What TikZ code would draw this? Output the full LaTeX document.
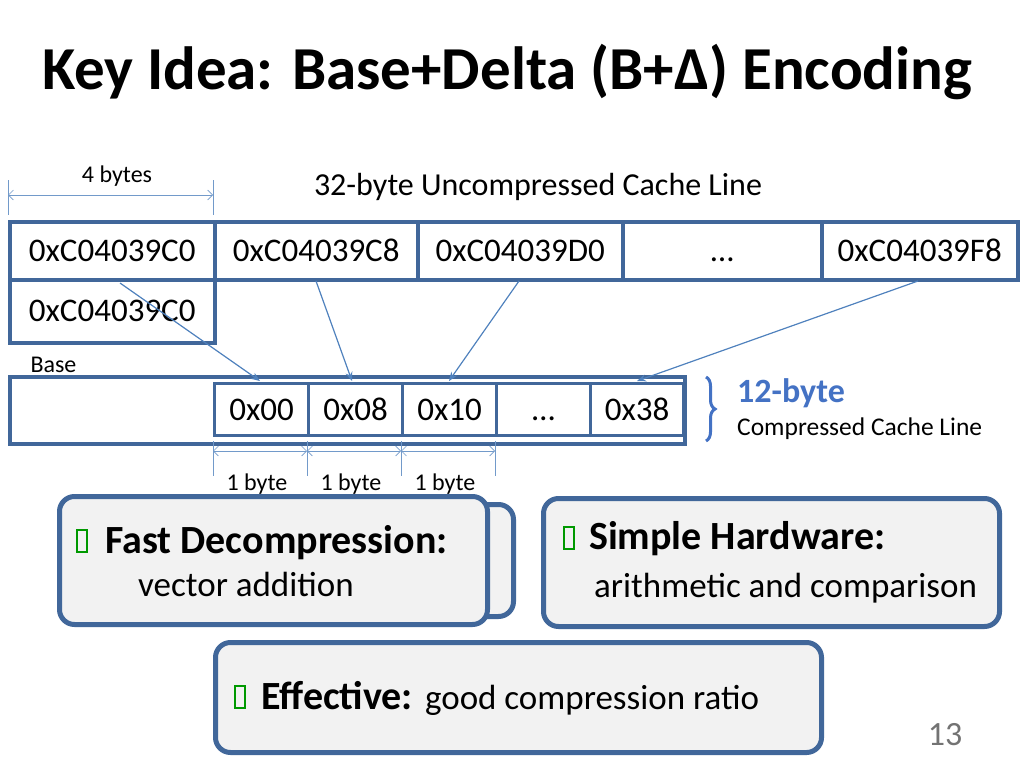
\documentclass[tikz,border=0pt]{standalone}
\usepackage{fontspec}
\setmainfont{Carlito}
\usetikzlibrary{arrows.meta,decorations.pathreplacing}
\definecolor{frame}{HTML}{41679A}
\definecolor{arr}{HTML}{4F81BD}
\definecolor{brc}{HTML}{4472C4}
\begin{document}
\begin{tikzpicture}[x=1pt,y=-1pt,
 cell/.style={draw=frame,line width=3.5pt,minimum height=58pt,anchor=north west,inner sep=0pt,font=\fontsize{33}{36}\selectfont},
 sc/.style={draw=frame,line width=3pt,minimum height=52pt,minimum width=94pt,anchor=north west,inner sep=0pt,font=\fontsize{33}{36}\selectfont},
 con/.style={draw=arr,line width=1.2pt,-{Stealth[length=9pt,width=7pt]}},
 dim/.style={draw=arr!80,line width=0.6pt,{Straight Barb[length=5pt]}-{Straight Barb[length=5pt]}},
 tick/.style={draw=arr!80,line width=0.6pt},
 box/.style={draw=frame,line width=5pt,fill=black!5,rounded corners=15pt,anchor=north west,inner sep=0pt},
 chk/.style={draw=green!60!black,line width=1.2pt,minimum width=10pt,minimum height=22pt,inner sep=0pt},
 small/.style={font=\fontsize{24}{28}\selectfont}]
\useasboundingbox (0,0) rectangle (1024,768);
\node (title) at (507,72) {\fontsize{61}{68}\selectfont\bfseries Key Idea: Base+Delta (B+Δ) Encoding};
\node[small] (fb) at (117,176) {4 bytes};
\coordinate (t1a) at (8,180); \coordinate (t1b) at (8,215);
\coordinate (t2a) at (213,180); \coordinate (t2b) at (213,215);
\draw[tick] (t1a)--(t1b); \draw[tick] (t2a)--(t2b);
\coordinate (d1) at (8,195); \coordinate (d2) at (213,195);
\draw[dim] (d1)--(d2);
\node (unc) at (538,187) {\fontsize{32}{36}\selectfont 32-byte Uncompressed Cache Line};
\node[cell,minimum width=205pt] (c1) at (8,220) {0xC04039C0};
\node[cell,minimum width=203pt] (c2) at (213,220) {0xC04039C8};
\node[cell,minimum width=205pt] (c3) at (416,220) {0xC04039D0};
\node[cell,minimum width=199pt] (c4) at (621,220) {\vphantom{0x}…};
\node[cell,minimum width=196pt] (c5) at (820,220) {0xC04039F8};
\node[cell,minimum width=205pt,minimum height=63pt] (b0) at (8,278) {0xC04039C0};
\node[small,anchor=west] (bl) at (27,365) {Base};
\node[draw=frame,line width=3.5pt,minimum width=675pt,minimum height=67pt,anchor=north west,inner sep=0pt] (row) at (8,375) {};
\node[sc] (s1) at (213,382) {0x00};
\node[sc] (s2) at (307,382) {0x08};
\node[sc] (s3) at (401,382) {0x10};
\node[sc] (s4) at (495,382) {\vphantom{0x}…};
\node[sc,minimum width=93pt] (s5) at (589,382) {0x38};
\coordinate (a1) at (120,283); \coordinate (e1) at (260,381);
\coordinate (a2) at (316,281); \coordinate (e2) at (352,381);
\coordinate (a3) at (519,281); \coordinate (e3) at (449,381);
\coordinate (a4) at (918,281); \coordinate (e4) at (637,381);
\draw[con] (a1)--(e1); \draw[con] (a2)--(e2); \draw[con] (a3)--(e3); \draw[con] (a4)--(e4);
\foreach \x/\n in {213/p1,307/p2,401/p3,495/p4}{
 \coordinate (\n a) at (\x,441); \coordinate (\n b) at (\x,476); \draw[tick] (\n a)--(\n b);}
\coordinate (q1) at (213,451); \coordinate (q2) at (307,451); \coordinate (q3) at (401,451); \coordinate (q4) at (495,451);
\draw[dim] (q1)--(q2); \draw[dim] (q2)--(q3); \draw[dim] (q3)--(q4);
\node[small] (l1) at (257,484) {1 byte};
\node[small] (l2) at (351,484) {1 byte};
\node[small] (l3) at (445,484) {1 byte};
\coordinate (br1) at (706,377); \coordinate (br2) at (706,441);
\draw[brc,line width=3pt,decorate,decoration={brace,amplitude=9pt}] (br1)--(br2);
\node[anchor=west,text=brc,inner sep=0pt] (tb) at (737,393) {\fontsize{34}{38}\selectfont\bfseries 12-byte};
\node[anchor=west,inner sep=0pt] (cc) at (737,429) {\fontsize{25.5}{30}\selectfont Compressed Cache Line};
\node[box,minimum width=448pt,minimum height=112pt] (bk) at (63,502) {};
\node[box,minimum width=428pt,minimum height=128pt] (f1) at (57,494) {};
\node[chk] (k1) at (82,541) {};
\node[anchor=west,inner sep=0pt] (t1) at (105,543) {\fontsize{40}{44}\selectfont\bfseries Fast Decompression:};
\node[anchor=west,inner sep=0pt] (t1s) at (138,584) {\fontsize{35}{40}\selectfont vector addition};
\node[box,minimum width=456pt,minimum height=128pt] (f2) at (541,496) {};
\node[chk] (k2) at (569,538) {};
\node[anchor=west,inner sep=0pt] (t2) at (589,539) {\fontsize{40}{44}\selectfont\bfseries Simple Hardware:};
\node[anchor=west,inner sep=0pt] (t2s) at (594,588) {\fontsize{35}{40}\selectfont arithmetic and comparison};
\node[box,minimum width=606pt,minimum height=110pt] (f3) at (213,640) {};
\node[chk] (k3) at (240,697) {};
\node[anchor=west,inner sep=0pt] (t3) at (261,698) {\fontsize{40}{44}\selectfont\bfseries Effective: \mdseries\fontsize{35}{40}\selectfont good compression ratio};
\node[text=black!55] (pg) at (945,735) {\fontsize{34}{38}\selectfont 13};
\end{tikzpicture}
\end{document}
